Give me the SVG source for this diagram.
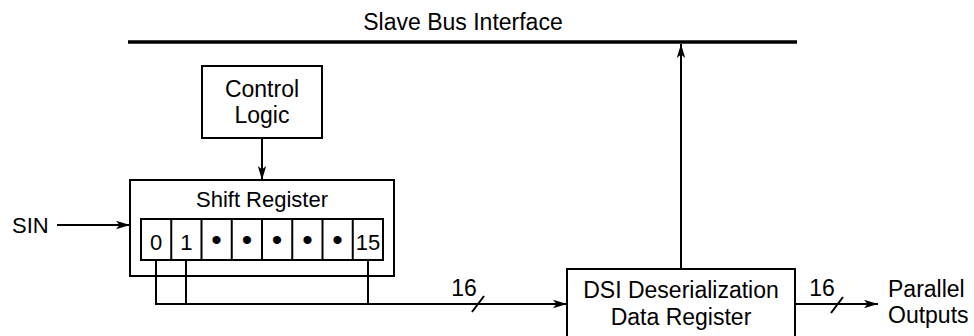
<svg xmlns="http://www.w3.org/2000/svg" width="974" height="336" viewBox="0 0 974 336">
<style>
text{font-family:"Liberation Sans",Arial,sans-serif;font-size:23px;fill:#000}
.c{text-anchor:middle}
.s{font-size:22px}
.d{font-size:30px}
.box{fill:#fff;stroke:#000;stroke-width:2}
.ln{fill:none;stroke:#000;stroke-width:2}
</style>
<defs>
<marker id="ah" markerUnits="userSpaceOnUse" markerWidth="15" markerHeight="10" refX="14" refY="5" orient="auto">
<path d="M0,0.8 L14,5 L0,9.2 L3.5,5 z" fill="#000"/>
</marker>
</defs>
<rect width="974" height="336" fill="#fff"/>
<g id="bus">
<text class="c" x="463" y="30">Slave Bus Interface</text>
<line x1="128" y1="42" x2="797" y2="42" stroke="#000" stroke-width="3.5"/>
</g>
<g id="connectors">
<line class="ln" x1="262" y1="138" x2="262" y2="180" marker-end="url(#ah)"/>
<line class="ln" x1="57" y1="225" x2="130" y2="225" marker-end="url(#ah)"/>
<line class="ln" x1="681" y1="269" x2="681" y2="44" marker-end="url(#ah)"/>
<polyline class="ln" points="156,260 156,304 567,304" marker-end="url(#ah)"/>
<line class="ln" x1="186" y1="260" x2="186" y2="304"/>
<line class="ln" x1="368" y1="260" x2="368" y2="304"/>
<line class="ln" x1="472" y1="312" x2="484" y2="296"/>
<text class="c" x="464" y="296">16</text>
<line class="ln" x1="795" y1="304" x2="878" y2="304" marker-end="url(#ah)"/>
<line class="ln" x1="831" y1="313" x2="843" y2="297"/>
<text class="c" x="822" y="296">16</text>
</g>
<g id="sin"><text class="s" x="12" y="233">SIN</text></g>
<g id="control-logic">
<rect class="box" x="202" y="66" width="120" height="72"/>
<text class="c" x="262" y="97">Control</text>
<text class="c" x="262" y="123">Logic</text>
</g>
<g id="shift-register">
<rect class="box" x="130" y="180" width="264" height="96" style="fill:none"/>
<text class="c s" x="262" y="207">Shift Register</text>
<rect class="box" x="141" y="219" width="242" height="41"/>
<path class="ln" d="M171.25,219V260M201.5,219V260M231.75,219V260M262,219V260M292.25,219V260M322.5,219V260M352.75,219V260"/>
<text class="c s" x="156.1" y="250">0</text>
<text class="c s" x="186.4" y="250">1</text>
<text class="c d" x="216.6" y="250">•</text>
<text class="c d" x="246.9" y="250">•</text>
<text class="c d" x="277.1" y="250">•</text>
<text class="c d" x="307.4" y="250">•</text>
<text class="c d" x="337.6" y="250">•</text>
<text class="c s" x="367.9" y="250">15</text>
</g>
<g id="dsi-register">
<rect class="box" x="567" y="269" width="228" height="80"/>
<text class="c" x="681" y="298">DSI Deserialization</text>
<text class="c" x="681" y="325">Data Register</text>
</g>
<g id="parallel-outputs">
<text x="888" y="297">Parallel</text>
<text x="888" y="323">Outputs</text>
</g>
</svg>
